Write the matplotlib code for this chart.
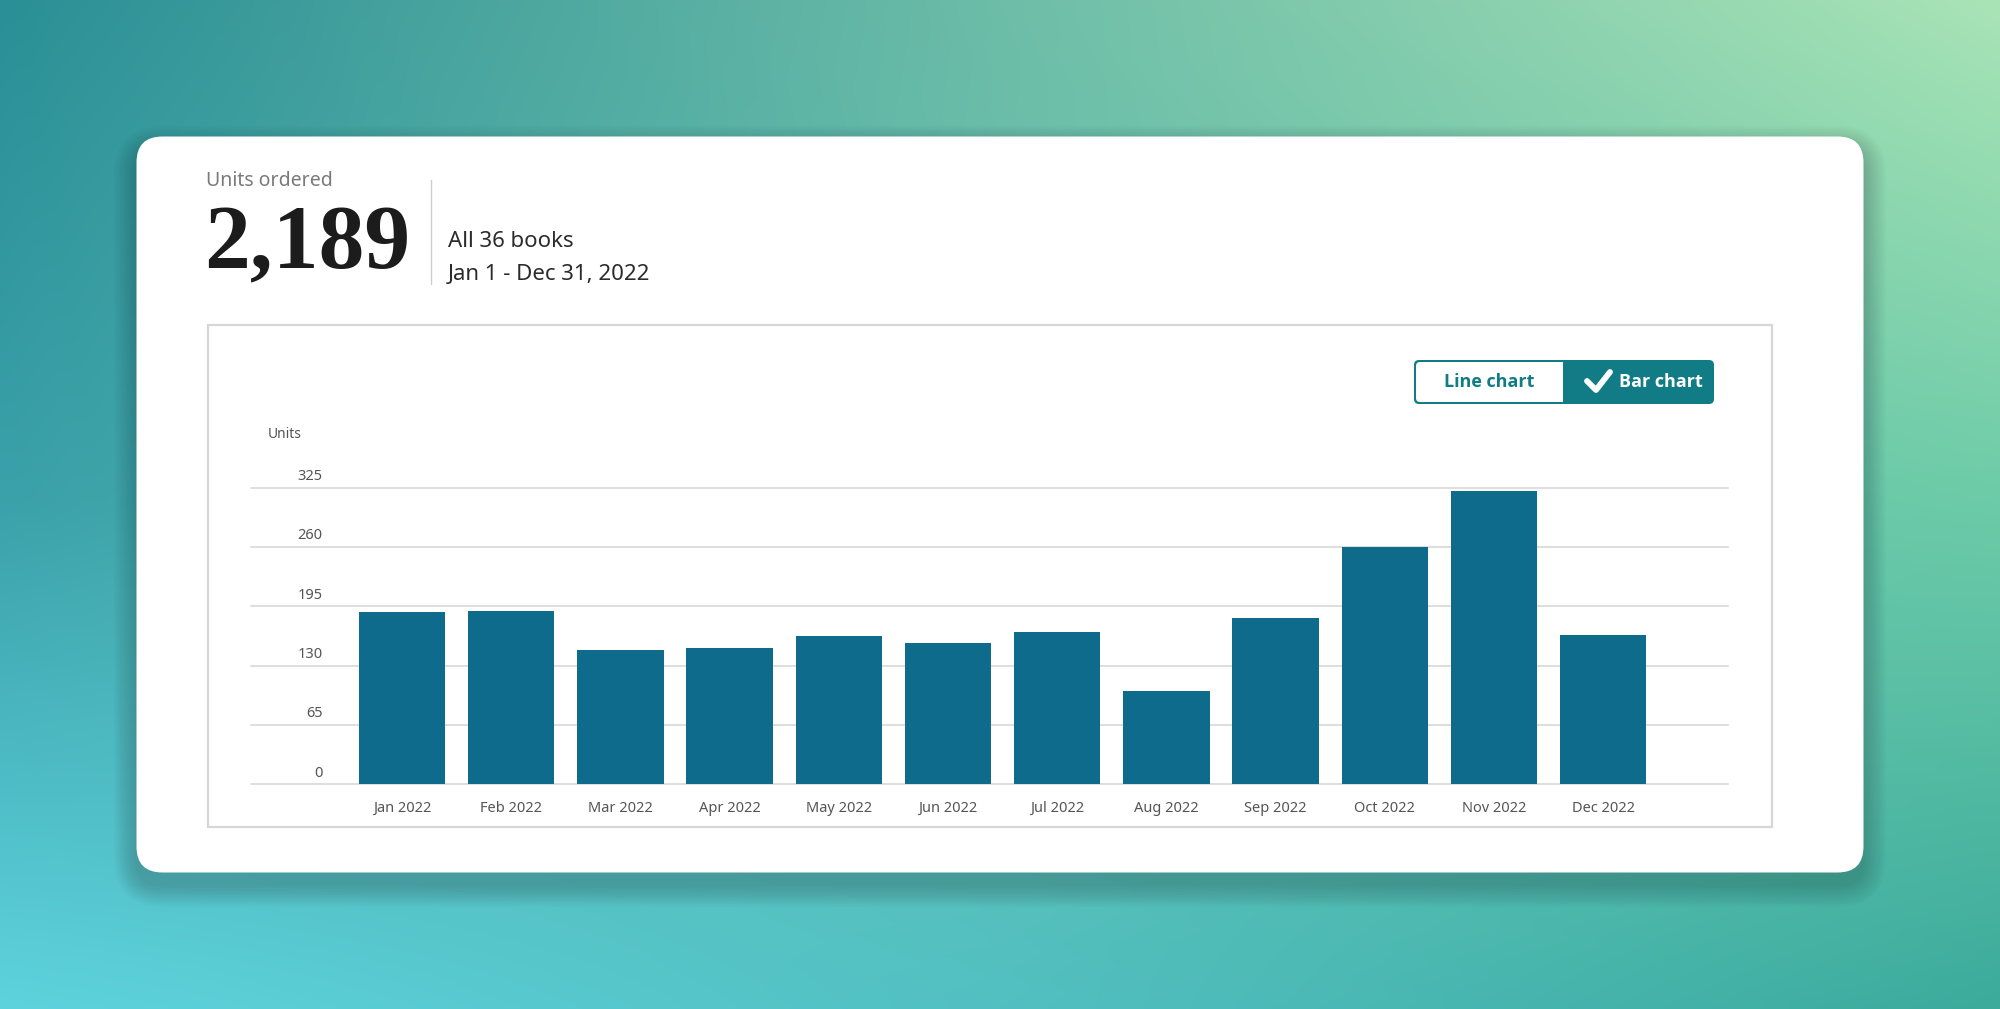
import numpy as np
import matplotlib
matplotlib.use('Agg')
import matplotlib.pyplot as plt
from matplotlib.patches import FancyBboxPatch, Rectangle
from matplotlib.colors import to_rgb

# data
months = ['Jan 2022', 'Feb 2022', 'Mar 2022', 'Apr 2022', 'May 2022', 'Jun 2022',
          'Jul 2022', 'Aug 2022', 'Sep 2022', 'Oct 2022', 'Nov 2022', 'Dec 2022']
units = [189, 190, 147, 149, 163, 155, 167, 102, 182, 260, 321, 164]
y_ticks = [0, 65, 130, 195, 260, 325]
total_units = '2,189'
books_note = 'All 36 books'
date_range = 'Jan 1 - Dec 31, 2022'

plt.rcParams['font.family'] = ['Noto Sans', 'DejaVu Sans']

W, H = 2000, 1009
fig = plt.figure(figsize=(W / 100, H / 100), dpi=100)

# background layer in pixel coords (y down)
bg = fig.add_axes([0, 0, 1, 1])
bg.set_xlim(0, W)
bg.set_ylim(H, 0)
bg.axis('off')

# soft teal/mint gradient behind the card
corners = [['#2a8f96', '#6dbda8', '#a9e4b6'],
           ['#3ba1aa', '#62bfab', '#6ccba8'],
           ['#5ed3dd', '#52c0c2', '#3cab9c']]
grid = np.array([[to_rgb(c) for c in row] for row in corners])
nx, ny = W // 4, H // 4
gx = np.linspace(0, 2, nx)
gy = np.linspace(0, 2, ny)
rows = np.stack([np.stack([np.interp(gx, [0, 1, 2], grid[r, :, ch]) for ch in range(3)], -1)
                 for r in range(3)])  # 3 x nx x 3
img = np.stack([np.stack([np.interp(gy, [0, 1, 2], rows[:, i, ch]) for i in range(nx)], 1)
                for ch in range(3)], -1)
bg.imshow(img, extent=(0, W, H, 0), aspect='auto', interpolation='bilinear', zorder=0)

# card shadow + card
cx0, cy0, cw, ch_ = 136.5, 136.5, 1727, 736
for i in range(1, 16):
    bg.add_patch(FancyBboxPatch((cx0 - i * 1.5, cy0 - i * 1.5 + 12), cw + i * 3, ch_ + i * 3,
                                boxstyle=f'round,pad=0,rounding_size={26 + i * 1.5}',
                                fc='black', ec='none', alpha=0.013, zorder=1))
bg.add_patch(FancyBboxPatch((cx0, cy0), cw, ch_, boxstyle='round,pad=0,rounding_size=26',
                            fc='white', ec='none', zorder=2))

# header
bg.text(206, 181, 'Units ordered', fontsize=14, color='#7a7a7a', va='center', zorder=3)
bg.text(204, 268, total_units, fontsize=66, family='Liberation Serif', fontweight='bold',
        color='#1c1c1c', va='baseline', zorder=3)
bg.plot([431, 431], [180, 284], color='#cfcfcf', lw=1, zorder=3)
bg.text(448, 247, books_note, fontsize=16, color='#2b2b2b', va='baseline', zorder=3)
bg.text(448, 280, date_range, fontsize=16, color='#2b2b2b', va='baseline', zorder=3)

# chart frame
bg.add_patch(Rectangle((208, 325), 1564, 502, fill=False, ec='#d6d6d6', lw=1.6, zorder=3))

# line / bar toggle
teal = '#117c86'
bg.add_patch(FancyBboxPatch((1414, 360), 300, 44, boxstyle='round,pad=0,rounding_size=5',
                            fc=teal, ec='none', zorder=3))
bg.add_patch(FancyBboxPatch((1416, 362), 160, 40, boxstyle='round,pad=0,rounding_size=4',
                            fc='white', ec='none', zorder=4))
bg.add_patch(Rectangle((1563, 360), 30, 44, fc=teal, ec='none', zorder=5))
bg.text(1489, 382, 'Line chart', fontsize=13, fontweight='bold', family='Open Sans',
        color=teal, ha='center', va='center', zorder=6)
bg.plot([1587, 1596, 1610], [381, 390, 372], color='white', lw=4.2,
        solid_capstyle='round', solid_joinstyle='round', zorder=6)
bg.text(1619, 382, 'Bar chart', fontsize=13, fontweight='bold', family='Open Sans',
        color='white', ha='left', va='center', zorder=6)

bg.text(268, 434, 'Units', fontsize=10, color='#555555', va='center', zorder=3)

# bar chart
ax = fig.add_axes([251 / W, (H - 784.3) / H, (1728 - 251) / W, (784.3 - 487.7) / H])
ax.set_facecolor('none')
x = np.arange(len(months))
ax.bar(x, units, width=0.79, color='#0e6b8c', zorder=2)
ax.set_xlim(-1.383, 12.143)
ax.set_ylim(0, 325)
for v in y_ticks:
    ax.axhline(v, color='#d4d4d4', lw=1.1, zorder=1, clip_on=False)
    ax.annotate(str(v), xy=(0, v), xycoords=('axes fraction', 'data'),
                xytext=(51.6, 8), textcoords='offset points',
                ha='right', va='center', fontsize=10.5, color='#555555')
for s in ax.spines.values():
    s.set_visible(False)
ax.set_yticks([])
ax.set_xticks(x, months)
ax.tick_params(axis='x', length=0, pad=12, labelsize=10.5, labelcolor='#555555')

fig.savefig('out.png', dpi=100)
